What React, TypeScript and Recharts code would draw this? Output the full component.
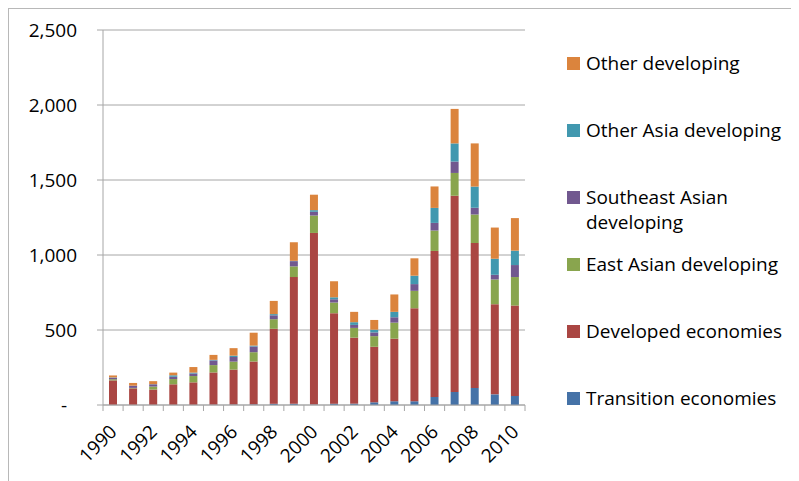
import { Bar, BarChart, CartesianGrid, Legend, XAxis, YAxis } from "recharts"

const years = [
  "1990", "1991", "1992", "1993", "1994", "1995", "1996", "1997", "1998", "1999", "2000",
  "2001", "2002", "2003", "2004", "2005", "2006", "2007", "2008", "2009", "2010",
]
const transition = [1, 1, 1, 1, 1, 2, 3, 4, 8, 8, 3, 9, 9, 18, 25, 25, 54, 87, 114, 71, 60]
const developed = [163, 110, 102, 137, 150, 215, 233, 286, 500, 845, 1144, 603, 440, 370, 417, 620, 973, 1308, 966, 601, 603]
const eastAsia = [8, 3, 20, 35, 42, 49, 53, 62, 64, 71, 116, 71, 65, 71, 107, 116, 136, 152, 190, 165, 190]
const southeastAsia = [10, 15, 15, 15, 17, 31, 31, 38, 26, 35, 25, 22, 20, 25, 36, 45, 51, 76, 45, 31, 80]
const otherAsia = [2, 0, 1, 10, 6, 4, 9, 6, 8, 2, 11, 13, 18, 18, 36, 56, 100, 121, 141, 107, 96]
const otherDeveloping = [13, 18, 20, 18, 37, 33, 50, 86, 88, 124, 103, 107, 69, 65, 116, 116, 143, 230, 288, 208, 217]
const yTicks = [0, 500, 1000, 1500, 2000, 2500]

const data = years.map((year, i) => ({
  year,
  transition: transition[i],
  developed: developed[i],
  eastAsia: eastAsia[i],
  southeastAsia: southeastAsia[i],
  otherAsia: otherAsia[i],
  otherDeveloping: otherDeveloping[i],
}))

const series = [
  { key: "transition", name: "Transition economies", color: "#4572A7" },
  { key: "developed", name: "Developed economies", color: "#AA4643" },
  { key: "eastAsia", name: "East Asian developing", color: "#89A54E" },
  { key: "southeastAsia", name: "Southeast Asian developing", color: "#71588F" },
  { key: "otherAsia", name: "Other Asia developing", color: "#4198AF" },
  { key: "otherDeveloping", name: "Other developing", color: "#DB843D" },
]

const FONT = "'Open Sans', sans-serif"
const AXIS = "#a6a6a6"
const W = 780
const H = 470
const LEFT = 94
const RIGHT = 264
const BAND = (W - LEFT - RIGHT) / years.length

function XTick(props: any) {
  const { x, y, payload, index } = props
  const half = BAND / 2
  return (
    <g>
      <line x1={x - half} x2={x - half} y1={y - 6} y2={y} stroke={AXIS} />
      {index === years.length - 1 && <line x1={x + half} x2={x + half} y1={y - 6} y2={y} stroke={AXIS} />}
      {index % 2 === 0 && (
        <text
          x={x + 5}
          y={y + 22}
          textAnchor="end"
          transform={`rotate(-45, ${x + 5}, ${y + 22})`}
          fontSize={19}
          fontFamily={FONT}
          fill="#000"
        >
          {payload.value}
        </text>
      )}
    </g>
  )
}

function YTick(props: any) {
  const { x, y, payload } = props
  const v = payload.value as number
  return (
    <text x={v === 0 ? x - 10 : x} y={y} dy="0.35em" textAnchor="end" fontSize={19} fontFamily={FONT} fill="#000">
      {v === 0 ? "-" : v.toLocaleString("en-US")}
    </text>
  )
}

function LegendBox() {
  const items = [...series].reverse()
  return (
    <div style={{ position: "relative", width: 230, height: 420, fontFamily: FONT, fontSize: 19, color: "#000" }}>
      {items.map((item, i) => (
        <div key={item.key} style={{ position: "absolute", left: 0, top: i * 66.9, width: 230 }}>
          <div style={{ position: "absolute", left: 0, top: 6, width: 13, height: 13, background: item.color }} />
          <div style={{ position: "absolute", left: 19, top: 0, width: 212, lineHeight: "25px" }}>{item.name}</div>
        </div>
      ))}
    </div>
  )
}

export default function App() {
  return (
    <div
      style={{
        position: "relative",
        width: 790,
        height: 472,
        borderLeft: "1px solid #b8b8b8",
        borderTop: "1px solid #b8b8b8",
        background: "#fff",
      }}
    >
      <BarChart width={W} height={H} data={data} margin={{ top: 21, right: RIGHT, left: 0, bottom: 0 }} barSize={8}>
        <CartesianGrid vertical={false} stroke={AXIS} />
        <XAxis
          dataKey="year"
          height={H - 21 - 375}
          interval={0}
          tickLine={false}
          tickSize={6}
          tickMargin={0}
          stroke={AXIS}
          tick={<XTick />}
        />
        <YAxis
          width={LEFT}
          domain={[0, 2500]}
          ticks={yTicks}
          tickSize={6}
          tickMargin={20}
          stroke={AXIS}
          tick={<YTick />}
        />
        <Legend
          layout="vertical"
          align="center"
          verticalAlign="middle"
          content={<LegendBox />}
          wrapperStyle={{ left: 558, top: 42, width: 230 }}
        />
        {series.map((s) => (
          <Bar key={s.key} dataKey={s.key} name={s.name} stackId="a" fill={s.color} isAnimationActive={false} />
        ))}
      </BarChart>
    </div>
  )
}
